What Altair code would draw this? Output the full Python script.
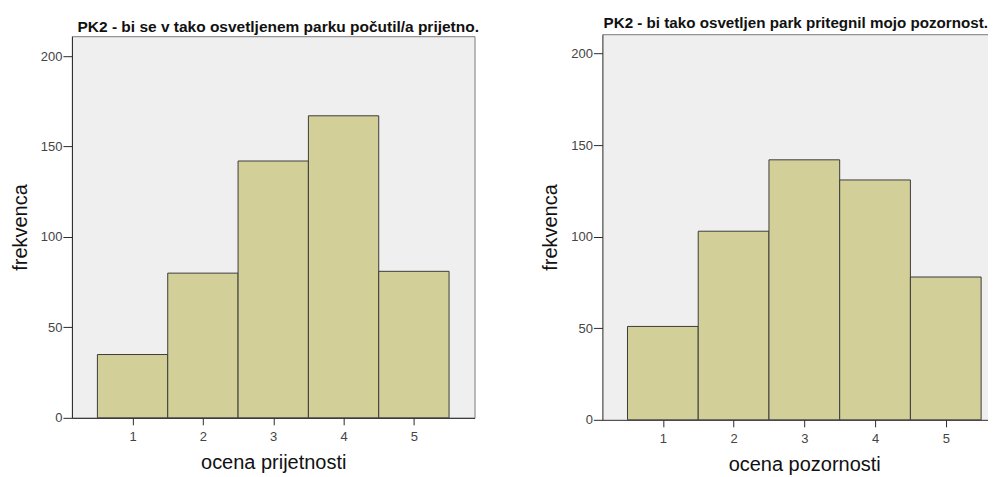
import altair as alt
import pandas as pd

# ---- data ----
categories = [1, 2, 3, 4, 5]
counts_prijetnost = [35, 80, 142, 167, 81]
counts_pozornost = [51, 103, 142, 131, 78]
y_ticks = [0, 50, 100, 150, 200]

title_left = "PK2 - bi se v tako osvetljenem parku počutil/a prijetno."
title_right = "PK2 - bi tako osvetljen park pritegnil mojo pozornost."
xtitle_left = "ocena prijetnosti"
xtitle_right = "ocena pozornosti"
ytitle = "frekvenca"

# ---- style ----
FONT = "Liberation Sans"
BAR_FILL = "#d3cf98"
BAR_STROKE = "#3c3c3c"
BG = "#efefef"
FRAME = "#7a7a7a"
AXIS = "#2a2a2a"
LABEL = "#444444"


def x_axis(xtitle, title_x=None):
    kw = dict(
        values=categories, title=xtitle, grid=False, domainColor=AXIS, tickColor=AXIS,
        tickSize=7, labelFontSize=13, labelColor=LABEL, labelPadding=6, labelFont=FONT,
        titleFont=FONT, titleFontSize=20, titleFontWeight="normal", titleColor="#111111",
        titlePadding=9, format="d",
    )
    if title_x is not None:
        kw["titleX"] = title_x
        kw["titleAlign"] = "center"
    return alt.Axis(**kw)


def y_axis():
    return alt.Axis(
        values=y_ticks, title=ytitle, grid=False, domainColor=AXIS, tickColor=AXIS,
        tickSize=9, labelFontSize=13, labelColor=LABEL, labelPadding=1, labelFont=FONT,
        titleFont=FONT, titleFontSize=20, titleFontWeight="normal", titleColor="#111111",
        titlePadding=10,
    )


def panel(counts, xtitle, width, height, xdom, ydom, title, view, top_border=False, title_x=None):
    df = pd.DataFrame({"cat": categories, "n": counts})
    base = alt.Chart(df).transform_calculate(
        lo="datum.cat - 0.5", hi="datum.cat + 0.5", base="0"
    )
    xs = alt.Scale(domain=xdom, nice=False, zero=False)
    ys = alt.Scale(domain=ydom, nice=False)
    bars = base.mark_rect(fill=BAR_FILL, stroke=BAR_STROKE, strokeWidth=1).encode(
        x=alt.X("lo:Q", scale=xs, axis=x_axis(xtitle, title_x)),
        x2="hi:Q",
        y=alt.Y("n:Q", scale=ys, axis=y_axis()),
        y2="base:Q",
    )
    if top_border:
        border = base.mark_rect(opacity=0).encode(
            x=alt.X("lo:Q", scale=xs, title=None,
                    axis=alt.Axis(orient="top", labels=False, ticks=False, grid=False,
                                  domainColor=FRAME, domainWidth=1)),
            x2="hi:Q",
            y=alt.Y("n:Q", scale=ys),
            y2="base:Q",
        )
        ch = alt.layer(bars, border).resolve_axis(x="independent")
    else:
        ch = bars
    return ch.properties(width=width, height=height, title=title, view=view)


left = panel(
    counts_prijetnost, xtitle_left, 403, 382, [0.138, 5.862], [0, 211],
    alt.TitleParams(title_left, fontSize=15.5, font=FONT, fontWeight="bold",
                    color="#111111", anchor="middle", dx=5, offset=1),
    view=alt.ViewBackground(fill=BG, stroke=FRAME, strokeWidth=1),
)
right = panel(
    counts_pozornost, xtitle_right, 386, 386, [0.145, 5.597], [0, 210.6],
    alt.TitleParams(title_right, fontSize=15.2, font=FONT, fontWeight="bold",
                    color="#111111", anchor="end", offset=3),
    view=alt.ViewBackground(fill=BG, strokeWidth=0),
    top_border=True, title_x=202,
)

chart = (
    alt.hconcat(left, right, spacing=128, bounds="flush", center=True)
    .properties(padding={"left": 1, "top": 7, "right": 0, "bottom": 0})
    .configure(background="white")
)

chart.save("out.html", embed_options={"renderer": "svg", "actions": False})
